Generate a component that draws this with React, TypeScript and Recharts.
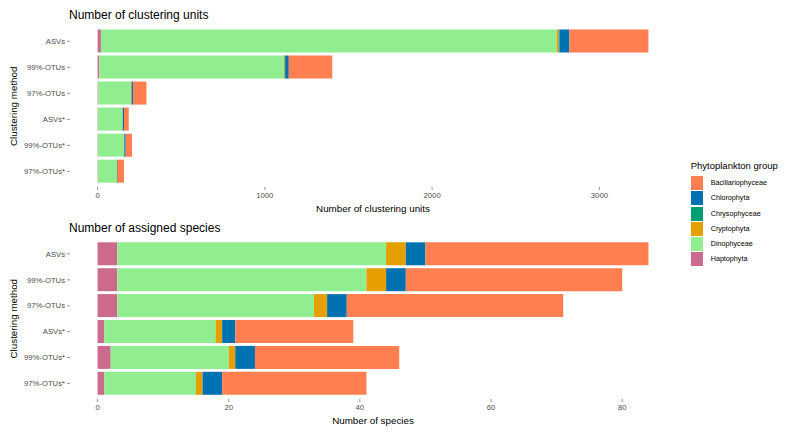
import React from "react";
import { BarChart, Bar, XAxis, YAxis } from "recharts";

const categories = ["ASVs", "99%-OTUs", "97%-OTUs", "ASVs*", "99%-OTUs*", "97%-OTUs*"];
const groups = ["Haptophyta", "Dinophyceae", "Cryptophyta", "Chrysophyceae", "Chlorophyta", "Bacillariophyceae"];
const legendOrder = ["Bacillariophyceae", "Chlorophyta", "Chrysophyceae", "Cryptophyta", "Dinophyceae", "Haptophyta"];
const colors: Record<string, string> = {
  Bacillariophyceae: "#FF7F50",
  Chlorophyta: "#0072B2",
  Chrysophyceae: "#009E73",
  Cryptophyta: "#E69F00",
  Dinophyceae: "#90EE90",
  Haptophyta: "#CC6A8D",
};

// Number of clustering units
const unitsHaptophyta = [20, 10, 4, 2, 2, 2];
const unitsDinophyceae = [2724, 1104, 195, 145, 155, 111];
const unitsCryptophyta = [12, 5, 4, 3, 2, 5];
const unitsChrysophyceae = [5, 2, 1, 1, 1, 1];
const unitsChlorophyta = [60, 22, 8, 7, 8, 3];
const unitsBacillariophyceae = [472, 260, 80, 28, 38, 36];
const unitsTicks = [0, 1000, 2000, 3000];

// Number of assigned species
const spHaptophyta = [3, 3, 3, 1, 2, 1];
const spDinophyceae = [41, 38, 30, 17, 18, 14];
const spCryptophyta = [3, 3, 2, 1, 1, 1];
const spChrysophyceae = [0, 0, 0, 0, 0, 0];
const spChlorophyta = [3, 3, 3, 2, 3, 3];
const spBacillariophyceae = [34, 33, 33, 18, 22, 22];
const spTicks = [0, 20, 40, 60, 80];

const buildRows = (series: number[][]) =>
  categories.map((name, i) => {
    const row: Record<string, string | number> = { name };
    groups.forEach((g, j) => {
      row[g] = series[j][i];
    });
    return row;
  });

const unitsData = buildRows([
  unitsHaptophyta,
  unitsDinophyceae,
  unitsCryptophyta,
  unitsChrysophyceae,
  unitsChlorophyta,
  unitsBacillariophyceae,
]);
const spData = buildRows([
  spHaptophyta,
  spDinophyceae,
  spCryptophyta,
  spChrysophyceae,
  spChlorophyta,
  spBacillariophyceae,
]);

const FONT = "'Liberation Sans', Arial, sans-serif";
const tickStyle = { fontSize: 7.7, fill: "#4D4D4D", fontFamily: FONT };
const axisTitleStyle = { fontSize: 9.8, fill: "#000000", fontFamily: FONT };

function Panel({
  data,
  domain,
  ticks,
  xTitle,
  marginTop,
}: {
  data: Record<string, string | number>[];
  domain: [number, number];
  ticks: number[];
  xTitle: string;
  marginTop: number;
}) {
  return (
    <BarChart
      width={793}
      height={217}
      data={data}
      layout="vertical"
      margin={{ top: marginTop, right: 117, bottom: 0, left: 0 }}
      barCategoryGap="5%"
      style={{ fontFamily: FONT }}
    >
      <XAxis
        type="number"
        domain={domain}
        ticks={ticks}
        allowDataOverflow
        axisLine={false}
        tickSize={3}
        tickMargin={3}
        tickLine={{ stroke: "#4D4D4D", strokeWidth: 0.6 }}
        tick={tickStyle}
        height={30}
        label={{ value: xTitle, position: "insideBottom", offset: 5, style: axisTitleStyle }}
      />
      <YAxis
        type="category"
        dataKey="name"
        width={70}
        axisLine={false}
        tickSize={3}
        tickMargin={2}
        tickLine={{ stroke: "#4D4D4D", strokeWidth: 0.6 }}
        tick={tickStyle}
        padding={{ top: 2.6, bottom: 2.6 }}
        interval={0}
        label={{
          value: "Clustering method",
          angle: -90,
          position: "insideLeft",
          offset: 14,
          style: { ...axisTitleStyle, textAnchor: "middle" },
        }}
      />
      {groups.map((g) => (
        <Bar key={g} dataKey={g} stackId="a" fill={colors[g]} isAnimationActive={false} />
      ))}
    </BarChart>
  );
}

export default function App() {
  return (
    <div
      style={{
        position: "absolute",
        left: 0,
        top: 0,
        width: 793,
        height: 434,
        background: "#ffffff",
        fontFamily: FONT,
        overflow: "hidden",
      }}
    >
      <div style={{ position: "absolute", left: 0, top: 0 }}>
        <Panel data={unitsData} domain={[-165, 3458]} ticks={unitsTicks} xTitle="Number of clustering units" marginTop={25.6} />
      </div>
      <div style={{ position: "absolute", left: 0, top: 212 }}>
        <Panel data={spData} domain={[-4.2, 88.2]} ticks={spTicks} xTitle="Number of species" marginTop={26.4} />
      </div>
      <div style={{ position: "absolute", left: 69, top: 8, fontSize: 12, lineHeight: "14px", color: "#000" }}>
        Number of clustering units
      </div>
      <div style={{ position: "absolute", left: 69, top: 220.7, fontSize: 12, lineHeight: "14px", color: "#000" }}>
        Number of assigned species
      </div>
      <div style={{ position: "absolute", left: 690.7, top: 159.5, fontSize: 9.5, lineHeight: "12px", color: "#000", whiteSpace: "nowrap" }}>
        Phytoplankton group
      </div>
      {legendOrder.map((g, i) => (
        <div key={g}>
          <div
            style={{
              position: "absolute",
              left: 691,
              top: 176.3 + i * 15.1,
              width: 12,
              height: 14,
              background: colors[g],
            }}
          />
          <div
            style={{
              position: "absolute",
              left: 710.7,
              top: 177.3 + i * 15.1,
              fontSize: 7.2,
              lineHeight: "12px",
              color: "#000",
              whiteSpace: "nowrap",
            }}
          >
            {g}
          </div>
        </div>
      ))}
    </div>
  );
}
